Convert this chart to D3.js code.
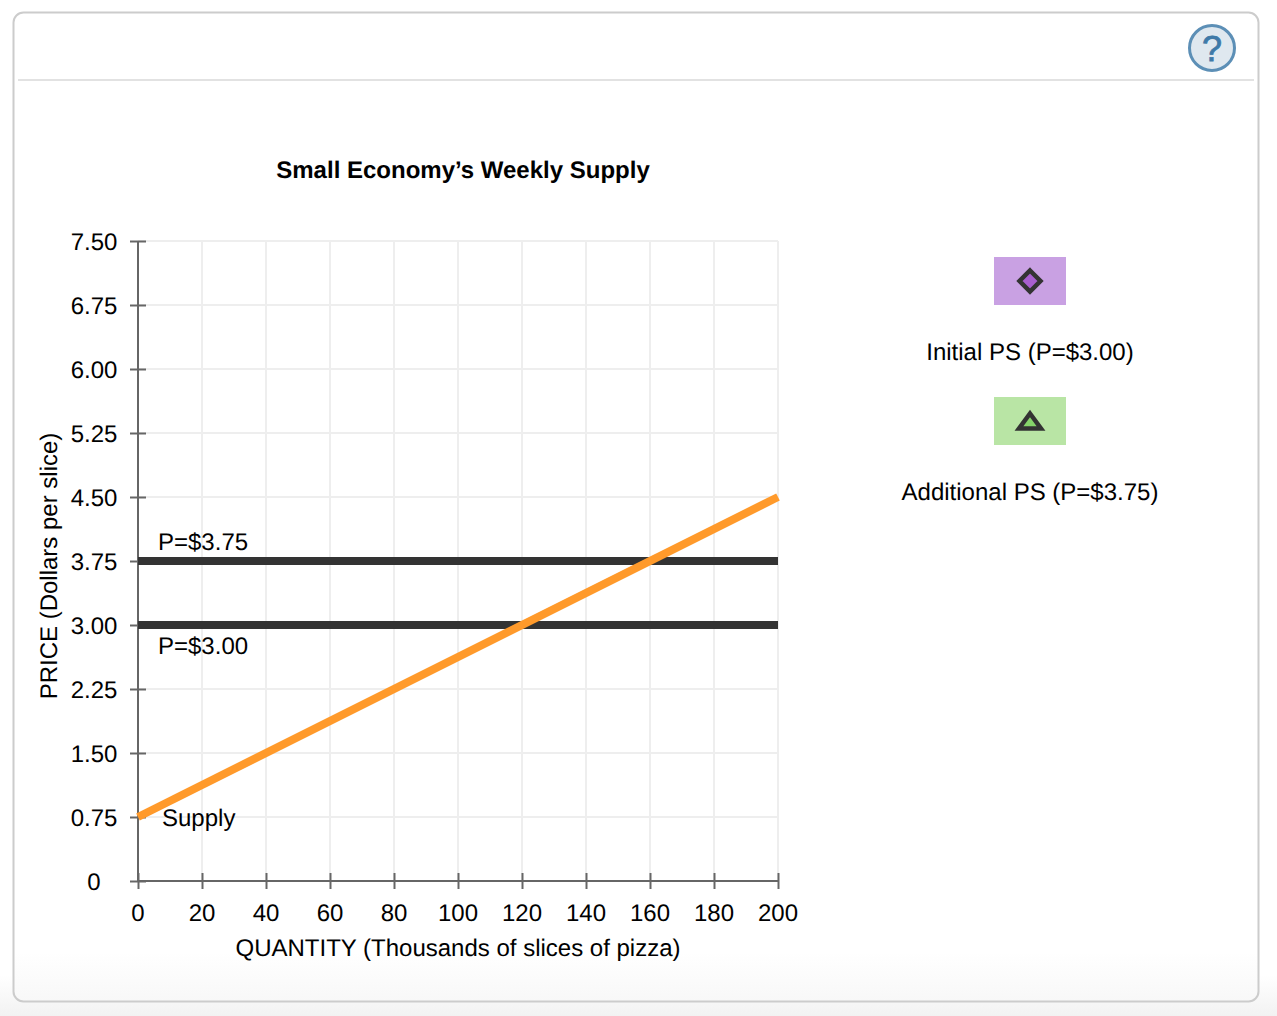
<!DOCTYPE html>
<html>
<head>
<meta charset="utf-8">
<script src="https://cdn.jsdelivr.net/npm/d3@7"></script>
<style>
  html, body { margin: 0; padding: 0; background: #fff; }
  svg { display: block; }
  text { font-family: "Liberation Sans", Arial, sans-serif; fill: #000; text-rendering: geometricPrecision; }
</style>
</head>
<body>
<svg id="chart"></svg>
<script>
// chart values
const quantityTicks = [0, 20, 40, 60, 80, 100, 120, 140, 160, 180, 200];
const priceTicks = [0, 0.75, 1.5, 2.25, 3, 3.75, 4.5, 5.25, 6, 6.75, 7.5];
const supplyQuantity = [0, 200];
const supplyPrice = [0.75, 4.5];
const priceLevels = [3.75, 3];
const priceLabels = ["P=$3.75", "P=$3.00"];
const legendLabels = ["Initial PS (P=$3.00)", "Additional PS (P=$3.75)"];

const width = 1277;
const height = 1016;
const fontSize = 24;

const svg = d3.select("#chart")
    .attr("width", width)
    .attr("height", height);

const defs = svg.append("defs");

function fade(id, start, color) {
    const g = defs.append("linearGradient")
        .attr("id", id)
        .attr("x1", 0).attr("y1", 0).attr("x2", 0).attr("y2", 1);
    g.append("stop").attr("offset", start).attr("stop-color", "#ffffff");
    g.append("stop").attr("offset", "1").attr("stop-color", color);
}
fade("pageFade", "0.96", "#f2f2f2");
fade("panelFade", "0.95", "#f8f8f8");

svg.append("rect")
    .attr("width", width)
    .attr("height", height)
    .attr("fill", "url(#pageFade)");

// panel frame
svg.append("rect")
    .attr("x", 13.5).attr("y", 12.5)
    .attr("width", 1245).attr("height", 989)
    .attr("rx", 10)
    .attr("fill", "url(#panelFade)")
    .attr("stroke", "#cccccc")
    .attr("stroke-width", 2);

svg.append("line")
    .attr("x1", 18).attr("x2", 1254)
    .attr("y1", 80).attr("y2", 80)
    .attr("stroke", "#e2e2e2")
    .attr("stroke-width", 2);

// help button
const help = svg.append("g").attr("transform", "translate(1212,48)");
help.append("circle")
    .attr("r", 22.5)
    .attr("fill", "#dfe8ef")
    .attr("stroke", "#5c8fb6")
    .attr("stroke-width", 3);
help.append("text")
    .attr("text-anchor", "middle")
    .attr("y", 13)
    .style("font-size", "36px")
    .style("fill", "#3f7aa8")
    .style("stroke", "#3f7aa8")
    .style("stroke-width", 0.8)
    .text("?");

const x = d3.scaleLinear().domain([0, 200]).range([138, 778]);
const y = d3.scaleLinear().domain([0, 7.5]).range([881, 241]);

// grid
svg.append("g").selectAll("line")
    .data(quantityTicks.slice(1))
    .join("line")
    .attr("x1", d => x(d)).attr("x2", d => x(d))
    .attr("y1", y(7.5)).attr("y2", y(0))
    .attr("stroke", "#eeeeee")
    .attr("stroke-width", 2);

svg.append("g").selectAll("line")
    .data(priceTicks.slice(1))
    .join("line")
    .attr("x1", x(0)).attr("x2", x(200))
    .attr("y1", d => y(d)).attr("y2", d => y(d))
    .attr("stroke", "#eeeeee")
    .attr("stroke-width", 2);

// axes
const xAxis = d3.axisBottom(x)
    .tickValues(quantityTicks)
    .tickSize(8)
    .tickPadding(15)
    .tickFormat(d3.format("d"));

const yAxis = d3.axisLeft(y)
    .tickValues(priceTicks)
    .tickSize(8)
    .tickPadding(13)
    .tickFormat(d => d === 0 ? "0" : d3.format(".2f")(d));

const xG = svg.append("g").attr("transform", `translate(0,${y(0)})`).call(xAxis);
const yG = svg.append("g").attr("transform", `translate(${x(0)},0)`).call(yAxis);

[xG, yG].forEach(g => {
    g.select(".domain").remove();
    g.selectAll(".tick line").attr("stroke", "#666666").attr("stroke-width", 2);
    g.selectAll("text").style("font-size", fontSize + "px").style("fill", "#000");
});

// ticks stick out on both sides of the axis
xG.selectAll(".tick line").attr("y1", -8).attr("y2", 8);
yG.selectAll(".tick line").attr("x1", -8).attr("x2", 8);

// y labels are centred in their column, so the 0 sits under the middle of the others
yG.selectAll("text")
    .attr("text-anchor", "middle")
    .attr("x", -44)
    .attr("dy", "0.36em");
xG.selectAll("text").attr("x", -0.5);

svg.append("line")
    .attr("x1", x(0)).attr("x2", x(0))
    .attr("y1", y(7.5)).attr("y2", y(0))
    .attr("stroke", "#666666").attr("stroke-width", 2);
svg.append("line")
    .attr("x1", x(0)).attr("x2", x(200))
    .attr("y1", y(0)).attr("y2", y(0))
    .attr("stroke", "#666666").attr("stroke-width", 2);

// price lines
svg.append("g").selectAll("line")
    .data(priceLevels)
    .join("line")
    .attr("x1", x(0)).attr("x2", x(200))
    .attr("y1", d => y(d)).attr("y2", d => y(d))
    .attr("stroke", "#333333")
    .attr("stroke-width", 8);

// supply line
const line = d3.line()
    .x(d => x(d))
    .y((d, i) => y(supplyPrice[i]));

svg.append("path")
    .datum(supplyQuantity)
    .attr("d", line)
    .attr("fill", "none")
    .attr("stroke", "#ff9a2b")
    .attr("stroke-width", 8);

// labels
function label(tx, ty, str, anchor, weight) {
    return svg.append("text")
        .attr("x", tx).attr("y", ty)
        .attr("text-anchor", anchor || "start")
        .style("font-size", fontSize + "px")
        .style("font-weight", weight || "normal")
        .text(str);
}

label(463, 178, "Small Economy\u2019s Weekly Supply", "middle", "bold");
label(458, 956, "QUANTITY (Thousands of slices of pizza)", "middle");
label(0, 0, "PRICE (Dollars per slice)", "middle")
    .attr("transform", "translate(57,566) rotate(-90)");

label(158, 550, priceLabels[0]);
label(158, 654, priceLabels[1]);
label(162, 826, "Supply");

// legend
function diamondMark() {
    const p = d3.path();
    p.moveTo(0, -10.5);
    p.lineTo(10.5, 0);
    p.lineTo(0, 10.5);
    p.lineTo(-10.5, 0);
    p.closePath();
    return p.toString();
}

function triangleMark() {
    const p = d3.path();
    p.moveTo(0, -7.5);
    p.lineTo(11, 7.5);
    p.lineTo(-11, 7.5);
    p.closePath();
    return p.toString();
}

const legendFills = ["#c9a1e3", "#b9e5a5"];
const legendMarks = ["#a85fcf", "#86d36b"];
const legendTops = [257, 397];
const legendShapes = [diamondMark, triangleMark];

legendLabels.forEach((text, i) => {
    svg.append("rect")
        .attr("x", 994).attr("y", legendTops[i])
        .attr("width", 72).attr("height", 48)
        .attr("fill", legendFills[i]);
    svg.append("path")
        .attr("d", legendShapes[i]())
        .attr("transform", `translate(1030,${legendTops[i] + 24})`)
        .attr("fill", legendMarks[i])
        .attr("stroke", "#333333")
        .attr("stroke-width", 4.5);
    label(1030, legendTops[i] + 103, text, "middle");
});
</script>
</body>
</html>
